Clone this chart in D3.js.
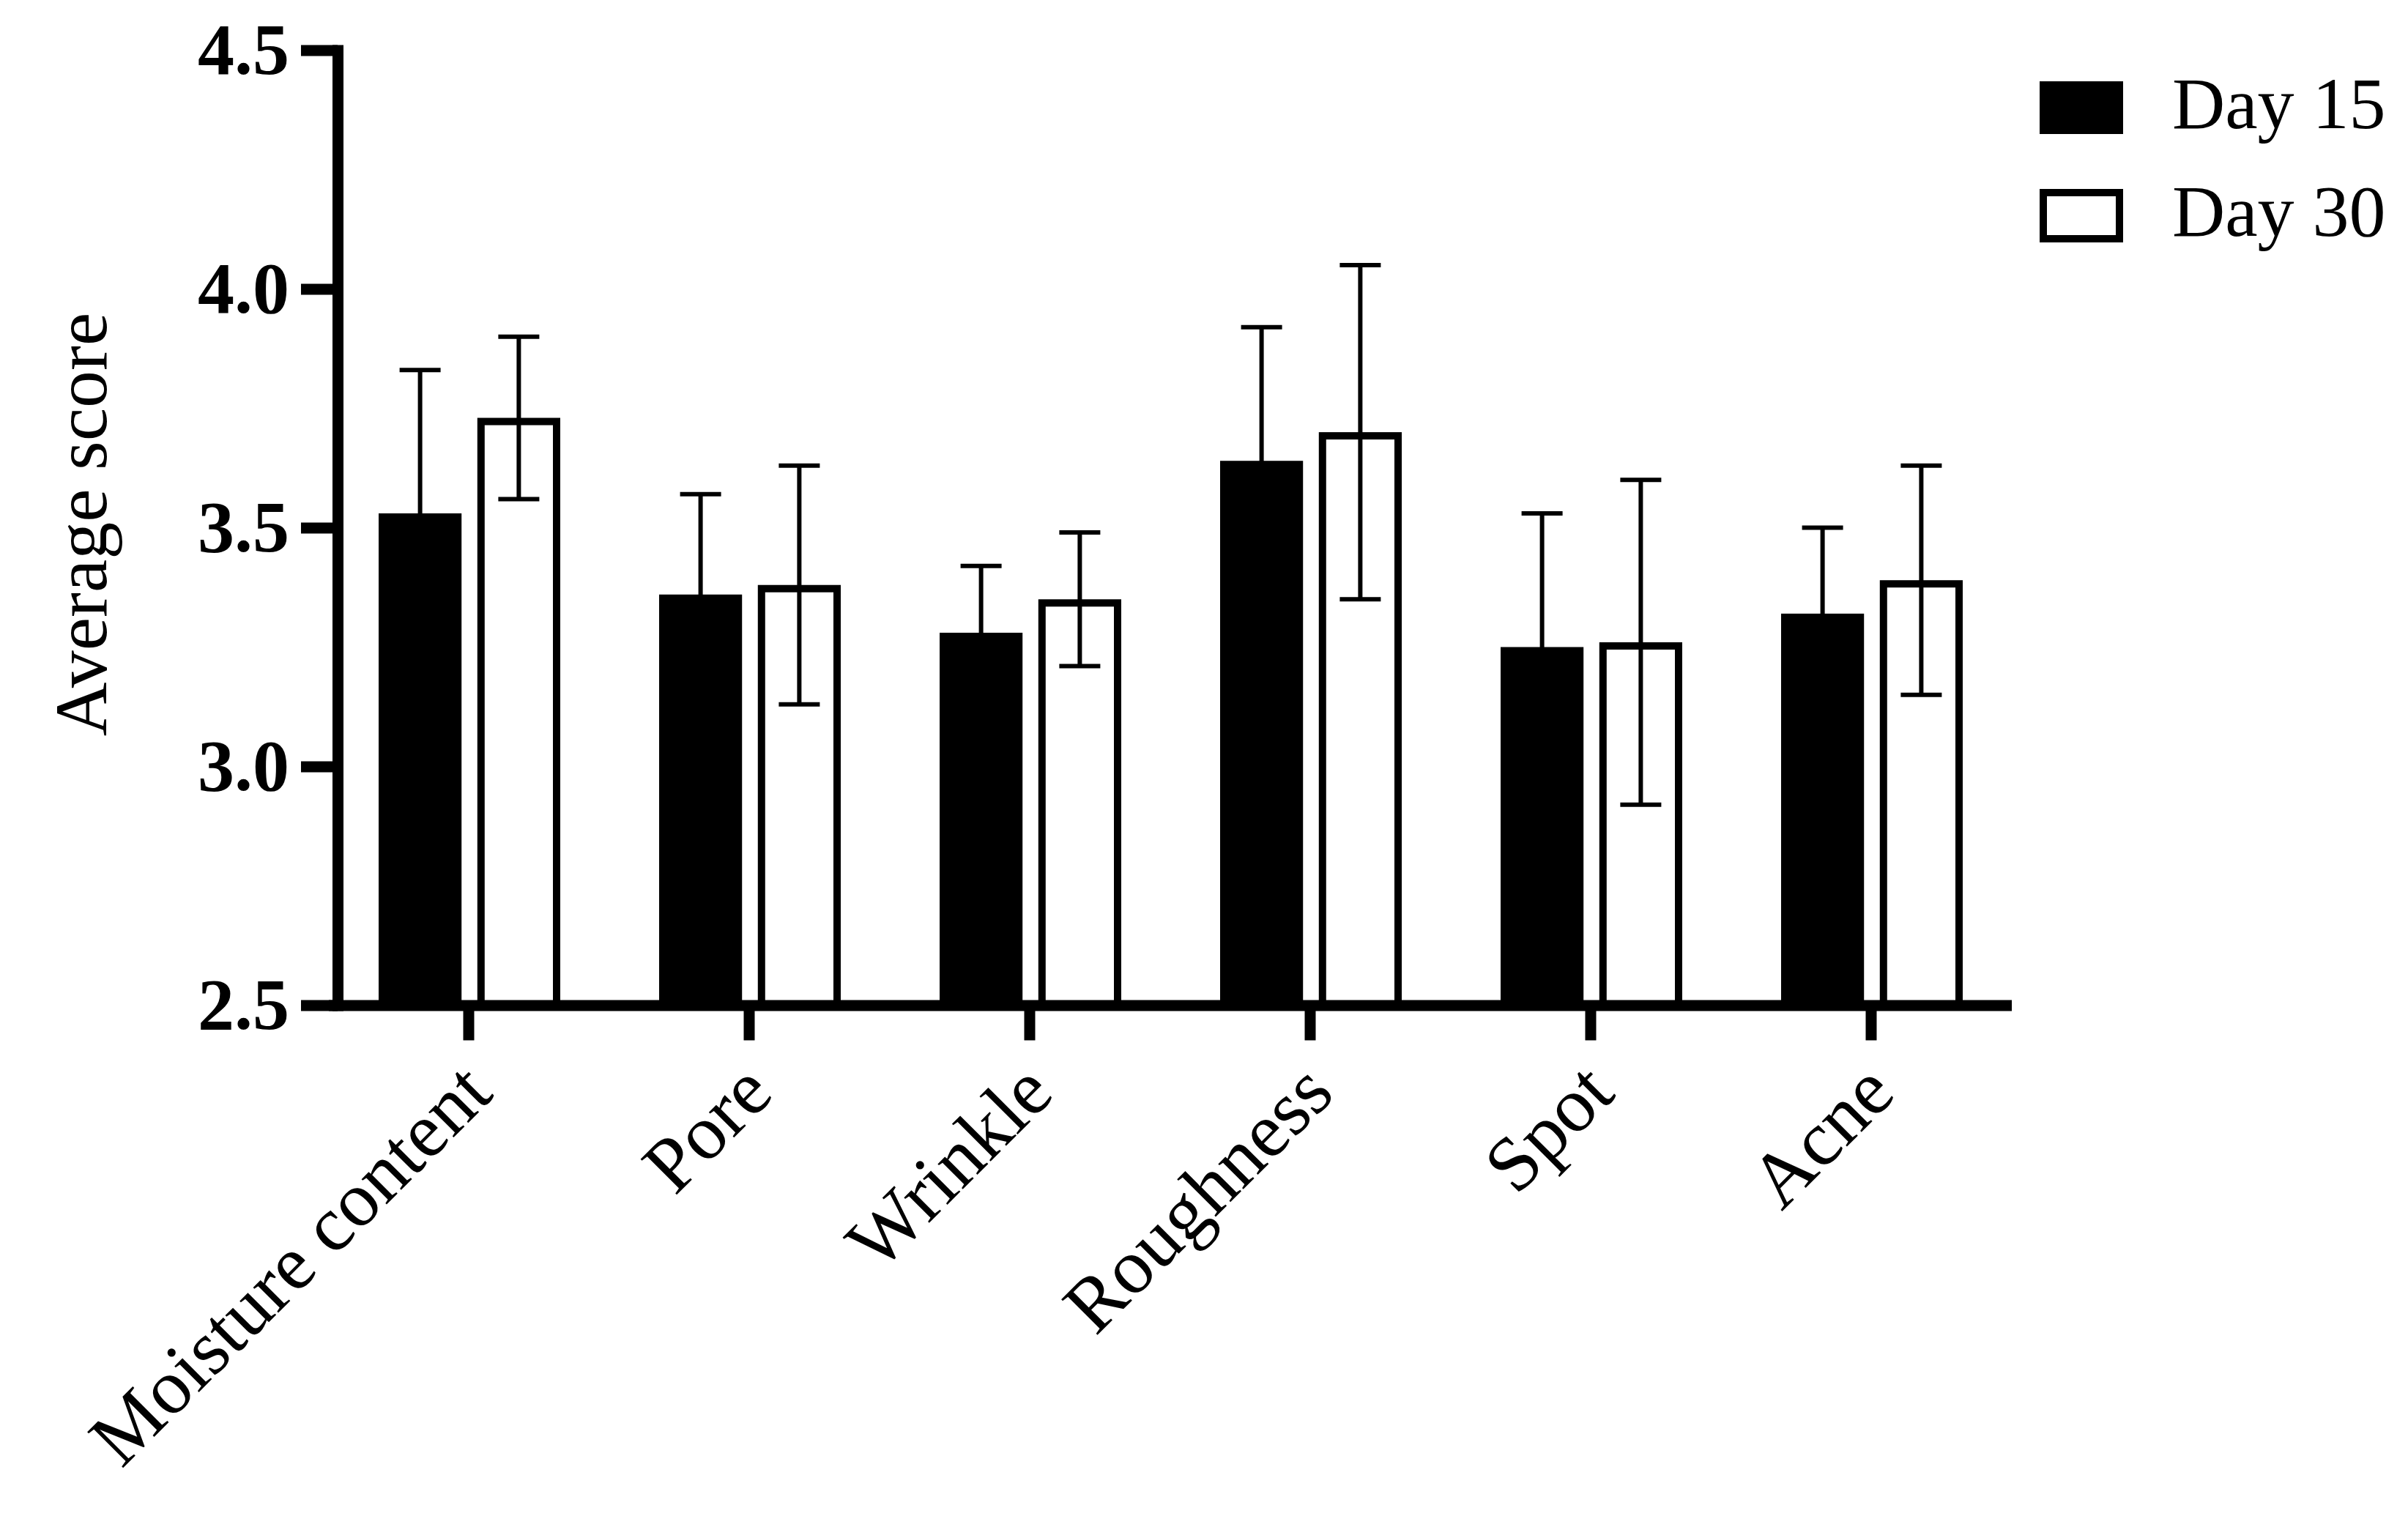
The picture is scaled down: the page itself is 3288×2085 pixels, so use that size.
<!DOCTYPE html>
<html>
<head>
<meta charset="utf-8">
<script src="https://cdn.jsdelivr.net/npm/d3@7"></script>
<style>
  body { margin: 0; background: #fff; }
  svg { display: block; }
  text { font-family: "Liberation Serif", "Times New Roman", serif; fill: #000; }
</style>
</head>
<body>
<div id="chart"></div>
<script>
// values (mean and SD per group)
const categories = ['Moisture content', 'Pore', 'Wrinkle', 'Roughness', 'Spot', 'Acne'];
const seriesNames = ['Day 15', 'Day 30'];
const day15Mean = [3.53, 3.36, 3.28, 3.64, 3.25, 3.32];
const day15SD = [0.30, 0.21, 0.14, 0.28, 0.28, 0.18];
const day30Mean = [3.73, 3.38, 3.35, 3.70, 3.26, 3.39];
const day30SD = [0.17, 0.25, 0.14, 0.35, 0.34, 0.24];
const yTicks = [2.5, 3.0, 3.5, 4.0, 4.5];

const svgWidth = 3288;
const svgHeight = 2085;

const svg = d3.select('#chart')
  .append('svg')
  .attr('width', svgWidth)
  .attr('height', svgHeight);

// scales
const x = d3.scaleBand()
  .domain(categories)
  .range([448.5, 2746.5])
  .padding(0);

const xSub = d3.scaleBand()
  .domain(seriesNames)
  .range([-123, 125])
  .paddingInner(0.16);

const y = d3.scaleLinear()
  .domain([2.5, 4.5])
  .range([1372.5, 68.5]);

const center = c => x(c) + x.bandwidth() / 2;

// build rows for bars
const rows = [];
categories.forEach((c, i) => {
  rows.push({cat: c, series: 'Day 15', mean: day15Mean[i], sd: day15SD[i]});
  rows.push({cat: c, series: 'Day 30', mean: day30Mean[i], sd: day30SD[i]});
});

const bw = xSub.bandwidth();
const stroke = 10;
const inset = d => d.series === 'Day 30' ? stroke / 2 : 0; // border drawn inside the bar

// bars
svg.append('g')
  .selectAll('rect')
  .data(rows)
  .enter()
  .append('rect')
  .attr('x', d => center(d.cat) + xSub(d.series) + inset(d))
  .attr('width', d => bw - 2 * inset(d))
  .attr('y', d => y(d.mean) + inset(d))
  .attr('height', d => y(2.5) - y(d.mean) - inset(d))
  .attr('fill', d => d.series === 'Day 15' ? '#000' : '#fff')
  .attr('stroke', d => d.series === 'Day 30' ? '#000' : 'none')
  .attr('stroke-width', stroke);

// error bars
const capW = 56;
const err = svg.append('g')
  .attr('stroke', '#000')
  .attr('stroke-width', 6);

rows.forEach(d => {
  const cx = center(d.cat) + xSub(d.series) + bw / 2;
  err.append('line')
    .attr('x1', cx).attr('x2', cx)
    .attr('y1', y(d.mean - d.sd)).attr('y2', y(d.mean + d.sd));
  [d.mean - d.sd, d.mean + d.sd].forEach(v => {
    err.append('line')
      .attr('x1', cx - capW / 2).attr('x2', cx + capW / 2)
      .attr('y1', y(v)).attr('y2', y(v));
  });
});

// y axis
const yAxis = svg.append('g')
  .attr('transform', 'translate(461,0)')
  .call(d3.axisLeft(y)
    .tickValues(yTicks)
    .tickFormat(d3.format('.1f'))
    .tickSize(50)
    .tickSizeOuter(0)
    .tickPadding(16));

yAxis.select('.domain')
  .attr('stroke', '#000')
  .attr('stroke-width', 15)
  .attr('stroke-linecap', 'square');
yAxis.selectAll('.tick line')
  .attr('stroke', '#000')
  .attr('stroke-width', 15);
yAxis.selectAll('.tick text')
  .style('font-family', '"Liberation Serif", "Times New Roman", serif')
  .style('font-size', '100px')
  .style('font-weight', 'bold')
  .attr('fill', '#000');

// x axis
const xAxis = svg.append('g')
  .attr('transform', `translate(0,${y(2.5)})`)
  .call(d3.axisBottom(x)
    .tickSize(48)
    .tickSizeOuter(0)
    .tickFormat(''));

xAxis.select('.domain')
  .attr('stroke', '#000')
  .attr('stroke-width', 15);
xAxis.selectAll('.tick line')
  .attr('stroke', '#000')
  .attr('stroke-width', 15);

// rotated category labels
svg.append('g')
  .selectAll('text')
  .data(categories)
  .enter()
  .append('text')
  .attr('transform', d => `translate(${center(d) + 36},${y(2.5) + 124}) rotate(-45)`)
  .attr('text-anchor', 'end')
  .style('font-size', '106px')
  .text(d => d);

// y axis title
svg.append('text')
  .attr('transform', 'translate(145,716) rotate(-90)')
  .attr('text-anchor', 'middle')
  .style('font-size', '102px')
  .text('Average score');

// legend
const legend = svg.append('g');
legend.append('rect')
  .attr('x', 2785).attr('y', 111)
  .attr('width', 114).attr('height', 72)
  .attr('fill', '#000');
legend.append('rect')
  .attr('x', 2790).attr('y', 263)
  .attr('width', 104).attr('height', 63)
  .attr('fill', '#fff')
  .attr('stroke', '#000')
  .attr('stroke-width', stroke);

legend.selectAll('.legend-label')
  .data(seriesNames)
  .enter()
  .append('text')
  .attr('class', 'legend-label')
  .attr('x', 2966)
  .attr('y', (d, i) => i === 0 ? 175 : 322)
  .style('font-size', '100px')
  .text(d => d);
</script>
</body>
</html>
